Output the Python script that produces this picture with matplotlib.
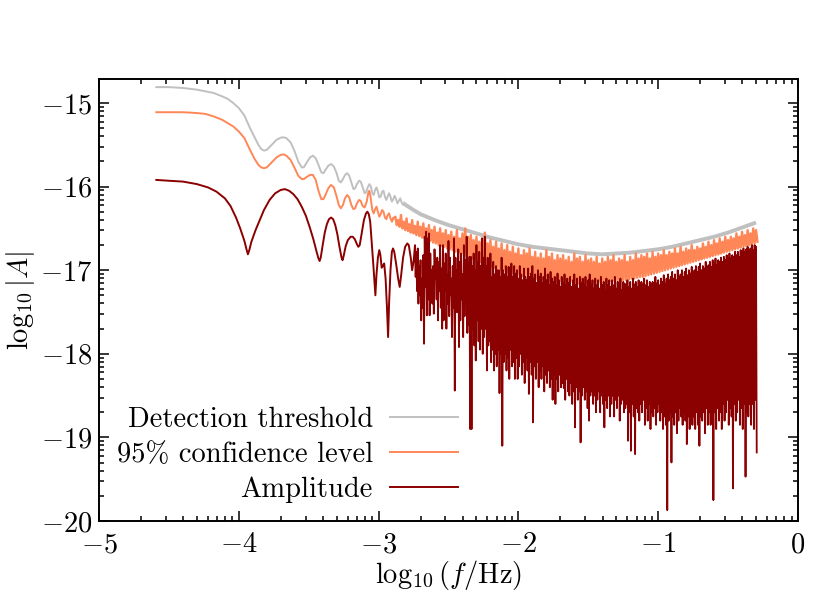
import numpy as np
import matplotlib
matplotlib.use("Agg")
import matplotlib.pyplot as plt
from matplotlib.ticker import FixedLocator, FuncFormatter

plt.rcParams.update({
    "font.family": "serif",
    "font.serif": ["cmr10"],
    "mathtext.fontset": "cm",
    "axes.unicode_minus": True,
    "axes.formatter.use_mathtext": True,
})

# ---------------- data (log10 f, log10 |A|) ----------------
labels = ["Detection threshold", "95% confidence level", "Amplitude"]
colors = ["#c0c0c0", "#ff8757", "#8b0000"]

# detection threshold: resolved part
gray_x = [-4.59, -4.50, -4.40, -4.30, -4.24, -4.18, -4.12, -4.08, -4.04, -4.00,
          -3.96, -3.92, -3.89, -3.86, -3.84, -3.82, -3.80, -3.77, -3.73, -3.70,
          -3.68, -3.66, -3.63, -3.60, -3.575, -3.55, -3.535, -3.51, -3.49, -3.47,
          -3.45, -3.43, -3.41, -3.395, -3.38, -3.36, -3.34, -3.32, -3.30, -3.285,
          -3.27, -3.255, -3.24, -3.225, -3.21, -3.195, -3.18, -3.168, -3.155, -3.14,
          -3.128, -3.115, -3.10, -3.09, -3.078, -3.066, -3.055, -3.045, -3.035, -3.025,
          -3.015, -3.005, -2.995, -2.985, -2.975, -2.965, -2.955, -2.945, -2.935, -2.925,
          -2.915, -2.905, -2.895, -2.885, -2.875, -2.865, -2.855, -2.845, -2.835, -2.825,
          -2.815]
gray_y = [-14.81, -14.81, -14.82, -14.84, -14.86, -14.88, -14.92, -14.95, -15.00, -15.06,
          -15.15, -15.30, -15.40, -15.50, -15.55, -15.57, -15.56, -15.51, -15.44, -15.415,
          -15.41, -15.42, -15.47, -15.58, -15.70, -15.77, -15.77, -15.70, -15.65, -15.63,
          -15.66, -15.74, -15.83, -15.84, -15.80, -15.75, -15.73, -15.76, -15.84, -15.93,
          -15.95, -15.91, -15.86, -15.84, -15.87, -15.95, -16.03, -16.02, -15.97, -15.93,
          -15.94, -16.00, -16.08, -16.07, -16.01, -15.97, -16.00, -16.08, -16.10, -16.04,
          -16.01, -16.06, -16.13, -16.12, -16.06, -16.05, -16.12, -16.16, -16.12, -16.08,
          -16.12, -16.18, -16.15, -16.11, -16.15, -16.20, -16.17, -16.14, -16.19, -16.22,
          -16.19]
# detection threshold: dense (unresolved) band centre
gray_band_x = [-2.815, -2.75, -2.70, -2.60, -2.50, -2.40, -2.30, -2.20, -2.10, -2.00,
               -1.90, -1.80, -1.70, -1.60, -1.50, -1.40, -1.30, -1.20, -1.10, -1.00,
               -0.90, -0.80, -0.70, -0.60, -0.50, -0.40, -0.30]
gray_band_y = [-16.21, -16.28, -16.33, -16.40, -16.46, -16.51, -16.56, -16.61, -16.65, -16.69,
               -16.72, -16.74, -16.76, -16.78, -16.80, -16.81, -16.80, -16.79, -16.77, -16.75,
               -16.72, -16.68, -16.64, -16.60, -16.55, -16.49, -16.43]

# 95% confidence level: resolved part
orange_x = [-4.59, -4.50, -4.40, -4.30, -4.24, -4.18, -4.12, -4.08, -4.04, -4.00,
            -3.96, -3.92, -3.89, -3.86, -3.84, -3.82, -3.80, -3.77, -3.73, -3.70,
            -3.68, -3.66, -3.63, -3.60, -3.575, -3.55, -3.535, -3.51, -3.49, -3.47,
            -3.45, -3.43, -3.41, -3.395, -3.38, -3.36, -3.34, -3.32, -3.30, -3.285,
            -3.27, -3.255, -3.24, -3.225, -3.21, -3.195, -3.18, -3.168, -3.155, -3.14,
            -3.128, -3.115, -3.10, -3.085, -3.072, -3.066, -3.058, -3.045, -3.035, -3.025,
            -3.015, -3.005, -2.995, -2.985, -2.975, -2.965, -2.955, -2.945, -2.935, -2.925,
            -2.915, -2.905, -2.895]
orange_y = [-15.11, -15.11, -15.11, -15.12, -15.13, -15.16, -15.20, -15.24, -15.28, -15.34,
            -15.42, -15.56, -15.66, -15.74, -15.77, -15.78, -15.77, -15.72, -15.65, -15.62,
            -15.615, -15.63, -15.68, -15.78, -15.87, -15.91, -15.91, -15.88, -15.86, -15.86,
            -15.92, -16.05, -16.15, -16.15, -16.10, -16.02, -15.98, -16.01, -16.12, -16.22,
            -16.26, -16.22, -16.14, -16.10, -16.13, -16.22, -16.27, -16.26, -16.20, -16.16,
            -16.17, -16.23, -16.25, -16.18, -16.06, -16.05, -16.12, -16.28, -16.32, -16.27,
            -16.24, -16.30, -16.36, -16.33, -16.28, -16.30, -16.37, -16.39, -16.34, -16.32,
            -16.38, -16.42, -16.38]
# 95% confidence level: dense band from -2.88 to -0.30 (upper / lower excursions)
orange_hi = [-16.36, -16.40, -16.34, -16.42, -16.38, -16.45, -16.40, -16.47, -16.42, -16.48,
             -16.44, -16.50, -16.46, -16.52, -16.48, -16.55, -16.50, -16.56, -16.52, -16.58,
             -16.54, -16.60, -16.52, -16.62, -16.56, -16.50, -16.60, -16.58, -16.64, -16.60,
             -16.66, -16.62, -16.55, -16.68, -16.64, -16.72, -16.66, -16.74, -16.68, -16.76,
             -16.70, -16.78, -16.72, -16.80, -16.74, -16.82, -16.76, -16.80, -16.74, -16.84,
             -16.78, -16.85, -16.80, -16.86, -16.76, -16.84, -16.80, -16.88, -16.82, -16.86,
             -16.82, -16.88, -16.84, -16.90, -16.80, -16.86, -16.84, -16.90, -16.82, -16.88,
             -16.86, -16.90, -16.84, -16.92, -16.86, -16.90, -16.84, -16.88, -16.82, -16.90,
             -16.86, -16.88, -16.82, -16.90, -16.84, -16.88, -16.80, -16.86, -16.82, -16.84,
             -16.80, -16.86, -16.78, -16.84, -16.80, -16.82, -16.76, -16.82, -16.78, -16.80,
             -16.74, -16.80, -16.72, -16.78, -16.74, -16.76, -16.70, -16.76, -16.72, -16.74,
             -16.68, -16.72, -16.66, -16.70, -16.64, -16.68, -16.62, -16.66, -16.60, -16.64,
             -16.60, -16.62, -16.56, -16.60, -16.54, -16.58, -16.52, -16.56, -16.50, -16.52]
orange_lo = [-16.46, -16.48, -16.50, -16.52, -16.53, -16.55, -16.56, -16.58, -16.59, -16.61,
             -16.62, -16.64, -16.65, -16.67, -16.68, -16.70, -16.71, -16.72, -16.74, -16.75,
             -16.76, -16.78, -16.79, -16.80, -16.82, -16.83, -16.84, -16.86, -16.87, -16.88,
             -16.90, -16.92, -16.93, -16.94, -16.96, -16.97, -16.98, -17.00, -17.01, -17.02,
             -17.03, -17.04, -17.05, -17.06, -17.06, -17.07, -17.08, -17.09, -17.09, -17.10,
             -17.10, -17.11, -17.11, -17.12, -17.12, -17.13, -17.13, -17.14, -17.14, -17.14,
             -17.15, -17.15, -17.15, -17.15, -17.16, -17.16, -17.16, -17.16, -17.16, -17.16,
             -17.16, -17.16, -17.16, -17.15, -17.15, -17.15, -17.14, -17.14, -17.14, -17.13,
             -17.13, -17.12, -17.12, -17.11, -17.10, -17.10, -17.09, -17.08, -17.08, -17.07,
             -17.06, -17.05, -17.04, -17.03, -17.02, -17.01, -17.00, -16.99, -16.98, -16.97,
             -16.96, -16.95, -16.94, -16.93, -16.92, -16.91, -16.90, -16.89, -16.88, -16.87,
             -16.86, -16.85, -16.84, -16.83, -16.82, -16.81, -16.80, -16.79, -16.78, -16.77,
             -16.76, -16.75, -16.74, -16.73, -16.72, -16.71, -16.70, -16.69, -16.68, -16.66]

# amplitude: resolved part
red_x = [-4.59, -4.50, -4.40, -4.30, -4.22, -4.16, -4.10, -4.06, -4.02, -3.99,
         -3.96, -3.945, -3.935, -3.925, -3.91, -3.88, -3.85, -3.82, -3.78, -3.74,
         -3.70, -3.67, -3.64, -3.61, -3.58, -3.55, -3.52, -3.49, -3.465, -3.445,
         -3.43, -3.422, -3.414, -3.40, -3.385, -3.37, -3.355, -3.34, -3.325, -3.31,
         -3.295, -3.28, -3.265, -3.258, -3.25, -3.235, -3.22, -3.20, -3.185, -3.17,
         -3.155, -3.145, -3.135, -3.12, -3.105, -3.09, -3.08, -3.07, -3.06, -3.05,
         -3.035, -3.023, -3.015, -3.005, -2.995, -2.987, -2.978, -2.97, -2.96, -2.95,
         -2.94, -2.932, -2.925, -2.915, -2.905, -2.897, -2.888, -2.875, -2.86, -2.849,
         -2.838, -2.825, -2.81, -2.795, -2.784, -2.77, -2.76, -2.75]
red_y = [-15.92, -15.93, -15.94, -15.97, -16.01, -16.06, -16.14, -16.23, -16.37, -16.50,
         -16.65, -16.75, -16.81, -16.76, -16.66, -16.52, -16.40, -16.28, -16.16, -16.08,
         -16.04, -16.03, -16.05, -16.09, -16.15, -16.24, -16.35, -16.50, -16.64, -16.77,
         -16.86, -16.89, -16.85, -16.70, -16.55, -16.45, -16.39, -16.37, -16.39, -16.46,
         -16.57, -16.72, -16.85, -16.88, -16.83, -16.71, -16.64, -16.60, -16.60, -16.63,
         -16.69, -16.72, -16.70, -16.55, -16.40, -16.32, -16.30, -16.33, -16.42, -16.65,
         -17.00, -17.30, -17.05, -16.85, -16.76, -16.82, -16.97, -16.95, -16.92, -17.10,
         -17.45, -17.80, -17.40, -17.00, -16.78, -16.74, -16.78, -16.92, -17.10, -17.20,
         -17.05, -16.85, -16.72, -16.68, -16.70, -16.85, -17.00, -16.90]
# amplitude: dense part from -2.74 to -0.30 in steps of 0.01 (upper / lower excursions)
red_hi = [-16.70, -16.78, -16.74, -16.95, -16.88, -17.10, -16.82, -16.60, -16.54, -16.62,
          -16.56, -16.80, -17.00, -16.95, -16.75, -17.05, -16.85, -16.90, -16.70, -16.98,
          -16.70, -16.92, -16.80, -17.05, -16.65, -16.85, -17.10, -16.95, -16.62, -16.85,
          -17.00, -16.75, -16.90, -16.80, -17.05, -16.70, -16.88, -16.60, -16.92, -16.84,
          -16.84, -16.95, -16.80, -17.00, -16.70, -16.90, -16.78, -16.95, -16.62, -16.85,
          -16.60, -16.95, -16.85, -17.00, -16.80, -17.08, -16.90, -17.05, -16.95, -17.00,
          -17.00, -17.08, -16.85, -17.00, -17.05, -16.95, -17.08, -16.96, -17.04, -16.92,
          -17.08, -16.95, -17.04, -17.00, -17.10, -16.95, -17.05, -17.12, -16.98, -17.08,
          -17.12, -16.98, -17.08, -17.04, -16.95, -17.10, -17.05, -17.15, -17.00, -17.08,
          -17.04, -17.15, -17.08, -16.98, -17.12, -17.05, -17.18, -17.02, -17.10, -17.14,
          -17.08, -17.18, -17.04, -17.12, -17.20, -17.08, -17.15, -17.05, -17.18, -17.10,
          -17.15, -17.08, -17.20, -17.12, -17.05, -17.18, -17.10, -17.22, -17.08, -17.15,
          -17.10, -17.18, -17.08, -17.20, -17.12, -17.05, -17.18, -17.12, -17.22, -17.10,
          -17.18, -17.12, -17.22, -17.08, -17.18, -17.14, -17.24, -17.10, -17.18, -17.12,
          -17.20, -17.12, -17.18, -17.08, -17.22, -17.14, -17.18, -17.10, -17.24, -17.14,
          -17.16, -17.22, -17.12, -17.20, -17.14, -17.22, -17.10, -17.17, -17.14, -17.20,
          -17.12, -17.20, -17.14, -17.17, -17.10, -17.18, -17.12, -17.20, -17.14, -17.17,
          -17.14, -17.17, -17.08, -17.16, -17.12, -17.18, -17.10, -17.14, -17.06, -17.16,
          -17.10, -17.05, -17.12, -17.08, -17.02, -17.10, -17.05, -17.12, -17.00, -17.08,
          -17.05, -17.00, -17.08, -17.02, -16.98, -17.06, -17.00, -17.04, -16.96, -17.02,
          -17.00, -16.95, -17.02, -16.96, -16.92, -17.00, -16.95, -16.98, -16.90, -16.96,
          -16.94, -16.90, -16.96, -16.88, -16.92, -16.86, -16.94, -16.88, -16.90, -16.85,
          -16.90, -16.84, -16.88, -16.82, -16.86, -16.80, -16.86, -16.82, -16.84, -16.78,
          -16.82, -16.78, -16.84, -16.76, -16.80, -16.74, -16.78, -16.75, -16.72, -16.78,
          -16.74, -16.70, -16.76, -16.70, -16.72]
red_lo = [-17.08, -17.25, -17.40, -17.30, -17.60, -17.45, -17.88, -17.20, -17.54, -17.35,
          -17.54, -17.24, -17.40, -17.52, -17.10, -17.35, -17.60, -17.25, -17.45, -17.70,
          -17.60, -17.25, -17.70, -17.40, -17.55, -17.30, -17.80, -17.45, -18.44, -17.50,
          -17.50, -17.92, -17.60, -17.35, -17.80, -17.55, -17.40, -17.75, -17.65, -18.90,
          -18.90, -17.70, -17.90, -18.08, -17.60, -17.85, -17.95, -17.70, -18.00, -17.80,
          -17.70, -18.20, -17.90, -17.85, -18.10, -17.95, -18.20, -18.00, -18.15, -17.95,
          -18.47, -18.00, -19.10, -18.10, -18.00, -18.20, -18.05, -18.30, -17.95, -18.15,
          -18.10, -18.30, -18.05, -18.30, -18.15, -18.00, -18.25, -18.10, -18.35, -18.05,
          -18.20, -18.48, -18.10, -18.25, -18.82, -18.15, -18.30, -18.10, -18.40, -18.20,
          -18.30, -18.15, -18.45, -18.25, -18.35, -18.20, -18.40, -18.30, -18.55, -18.25,
          -18.60, -18.30, -18.45, -18.25, -18.40, -18.35, -18.41, -18.55, -18.30, -18.45,
          -18.50, -18.35, -18.60, -18.45, -18.88, -18.40, -18.55, -18.45, -19.06, -18.50,
          -18.40, -18.55, -18.45, -18.65, -18.80, -18.50, -18.45, -18.60, -18.50, -18.70,
          -18.55, -18.45, -18.70, -18.50, -18.60, -18.88, -18.55, -18.65, -18.50, -18.75,
          -18.60, -18.50, -18.75, -18.55, -18.65, -18.50, -18.80, -18.60, -18.55, -18.70,
          -18.65, -18.60, -19.04, -18.70, -19.16, -18.60, -18.75, -19.20, -18.65, -18.70,
          -18.80, -18.60, -18.70, -18.55, -18.85, -18.65, -18.80, -18.60, -18.90, -18.70,
          -18.75, -18.65, -18.85, -18.70, -18.60, -18.80, -18.70, -18.90, -18.75, -18.85,
          -19.87, -18.80, -18.70, -19.30, -18.75, -18.85, -18.70, -18.95, -18.80, -18.65,
          -18.75, -18.85, -18.70, -18.80, -19.08, -18.75, -18.90, -18.70, -18.85, -18.75,
          -18.90, -18.70, -18.85, -19.10, -18.75, -18.80, -18.70, -18.95, -18.65, -18.85,
          -18.70, -18.85, -18.75, -19.75, -18.70, -18.90, -18.65, -18.80, -18.70, -18.90,
          -18.60, -18.80, -18.70, -18.55, -18.85, -18.65, -18.75, -19.61, -18.60, -18.80,
          -18.70, -18.55, -18.85, -18.65, -18.90, -18.60, -19.47, -18.70, -18.75, -18.60,
          -18.85, -18.60, -18.90, -18.55, -19.18]

x_major = [-5, -4, -3, -2, -1, 0]
y_major = [-20, -19, -18, -17, -16, -15]


def band_line(x0, x1, hi, lo):
    """Alternate the upper and lower excursions of a dense band."""
    n = len(hi)
    xs = np.linspace(x0, x1, n)
    step = (x1 - x0) / (n - 1)
    bx = np.empty(2 * n)
    by = np.empty(2 * n)
    bx[0::2] = xs
    bx[1::2] = xs + step / 2
    by[0::2] = hi
    by[1::2] = lo
    return bx, by


fig = plt.figure(figsize=(8.3, 6.0), dpi=100)
ax = fig.add_axes([0.1193, 0.1317, 0.8421, 0.7366])

lw = 1.4
h_gray, = ax.plot(gray_x, gray_y, color=colors[0], lw=lw, label=labels[0])
ax.plot(gray_band_x, gray_band_y, color=colors[0], lw=2.8, solid_capstyle="butt")

ox, oy = band_line(-2.88, -0.30, orange_hi, orange_lo)
h_orange, = ax.plot(orange_x, orange_y, color=colors[1], lw=lw, label=labels[1])
ax.plot(np.concatenate([orange_x[-1:], ox]), np.concatenate([orange_y[-1:], oy]),
        color=colors[1], lw=1.7)

rx, ry = band_line(-2.74, -0.30, red_hi, red_lo)
h_red, = ax.plot(red_x, red_y, color=colors[2], lw=lw, label=labels[2])
ax.plot(np.concatenate([red_x[-1:], rx]), np.concatenate([red_y[-1:], ry]),
        color=colors[2], lw=1.3)

ax.set_xlim(-5, 0)
ax.set_ylim(-20, -14.713)

x_minor = [n + np.log10(k) for n in range(-5, 0) for k in range(2, 10)]
y_minor = [n + np.log10(k) for n in range(-20, -15) for k in range(2, 10)]
ax.xaxis.set_major_locator(FixedLocator(x_major))
ax.xaxis.set_minor_locator(FixedLocator(x_minor))
ax.yaxis.set_major_locator(FixedLocator(y_major))
ax.yaxis.set_minor_locator(FixedLocator(y_minor))
fmt = FuncFormatter(lambda v, p: r"$%d$" % round(v))
ax.xaxis.set_major_formatter(fmt)
ax.yaxis.set_major_formatter(fmt)

fs = 20.5
ax.tick_params(which="both", direction="in", top=True, right=True, width=1.1,
               labelsize=fs)
ax.tick_params(which="major", length=7)
ax.tick_params(which="minor", length=3.5)
ax.tick_params(axis="x", which="major", pad=8)
ax.tick_params(axis="y", which="major", pad=5)
for s in ax.spines.values():
    s.set_linewidth(1.4)

ax.set_xlabel(r"$\log_{10}(f/\mathrm{Hz})$", fontsize=fs, labelpad=0)
ax.set_ylabel(r"$\log_{10}|A|$", fontsize=fs, labelpad=2)

ax.legend(handles=[h_gray, h_orange, h_red], labels=labels, loc="lower right",
          bbox_to_anchor=(0.514, 0.04), frameon=False, markerfirst=False,
          handlelength=2.4, handletextpad=0.6, labelspacing=0.3, fontsize=fs,
          borderpad=0, borderaxespad=0)

fig.savefig("out.png", dpi=100)
